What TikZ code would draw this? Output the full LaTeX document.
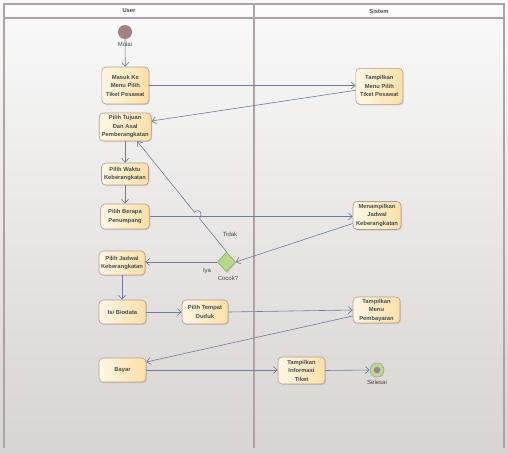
\documentclass[tikz,border=0pt]{standalone}
\usepackage{fontspec}
\setmainfont{Liberation Sans}
\usetikzlibrary{arrows.meta,shapes.geometric,shadows}
\definecolor{bgtop}{HTML}{FAFAFA}
\definecolor{bgbot}{HTML}{D7D4D1}
\definecolor{framec}{HTML}{B0A2A2}
\definecolor{boxl}{HTML}{FFF7E4}
\definecolor{boxr}{HTML}{FCDFA8}
\definecolor{boxb}{HTML}{B89A90}
\definecolor{linec}{HTML}{6E7B9C}
\definecolor{txtc}{HTML}{4A4A4A}
\definecolor{startc}{HTML}{A08282}
\definecolor{decf}{HTML}{B6D78C}
\definecolor{decb}{HTML}{8FA870}
\definecolor{endf}{HTML}{B8DA92}
\definecolor{endr}{HTML}{A0A0A0}
\tikzset{
  act/.style={rectangle, rounded corners=4pt, draw=boxb, line width=0.6pt,
    left color=boxl, right color=boxr, align=center, inner sep=0pt,
    font=\fontsize{5.8}{8.5}\selectfont\bfseries, text=txtc,
    drop shadow={opacity=0.25, shadow xshift=1pt, shadow yshift=-1pt}},
  flow/.style={draw=linec, line width=0.6pt, -{Straight Barb[length=4pt,width=7pt]}},
  lbl/.style={font=\fontsize{6}{7}\selectfont, text=txtc, inner sep=0pt},
  hdr/.style={font=\fontsize{5.8}{7}\selectfont\bfseries, text=txtc, inner sep=0pt},
  framel/.style={draw=framec, line width=1.2pt}
}
\begin{document}
\begin{tikzpicture}[x=1pt,y=-1pt]
\useasboundingbox (0,0) rectangle (508,453);
\shade[top color=bgtop,bottom color=bgbot] (0,0) rectangle (508,453);
\fill[white!98!gray] (4,4) rectangle (504,18);
\draw[framel] (4,448) -- (4,4) -- (504,4) -- (504,448);
\draw[framel] (4,18) -- (504,18);
\draw[framel] (254,4) -- (254,448);
\node[hdr] (huser) at (129,11) {User};
\node[hdr] (hsis) at (379,11) {Sistem};

% start
\node[circle, fill=startc, minimum size=14pt, inner sep=0pt] (start) at (125,32) {};

% actions
\node[act, minimum width=47pt, minimum height=37pt] (masuk) at (125.3,85.5) {Masuk Ke\\Menu Pilih\\Tiket Pesawat};
\node[act, minimum width=47pt, minimum height=36pt] (tmptp) at (379.3,86.3) {Tampilkan\\Menu Pilih\\Tiket Pesawat};
\node[act, minimum width=52pt, minimum height=28pt] (tujuan) at (125.2,127) {Pilih Tujuan\\Dan Asal\\Pemberangkatan};
\node[act, minimum width=47pt, minimum height=22pt] (waktu) at (125,174) {Pilih Waktu\\Keberangkatan};
\node[act, minimum width=48.5pt, minimum height=25pt] (berapa) at (125,216.5) {Pilih Berapa\\Penumpang};
\node[act, minimum width=48pt, minimum height=28pt] (menampil) at (377,215.5) {Menampilkan\\Jadwal\\Keberangkatan};
\node[diamond, draw=decb, fill=decf, line width=0.6pt, minimum width=18pt, minimum height=20pt, inner sep=0pt,
  drop shadow={opacity=0.25, shadow xshift=1pt, shadow yshift=-1pt}] (dec) at (226.5,262) {};
\node[act, minimum width=46pt, minimum height=24pt] (jadwal) at (122,263) {Pilih Jadwal\\Keberangkatan};
\node[act, minimum width=47pt, minimum height=24pt] (bio) at (122.5,312) {Isi Biodata};
\node[act, minimum width=46pt, minimum height=24pt] (duduk) at (205,312) {Pilih Tempat\\Duduk};
\node[act, minimum width=47pt, minimum height=26pt] (tmp) at (376.5,310) {Tampilkan\\Menu\\Pembayaran};
\node[act, minimum width=47pt, minimum height=24pt] (bayar) at (122.5,370) {Bayar};
\node[act, minimum width=47pt, minimum height=27pt] (info) at (301.5,370.5) {Tampilkan\\Informasi\\Tiket};

% end
\node[circle, draw=endr, line width=0.6pt, fill=endf, minimum size=14pt, inner sep=0pt] (fin) at (377,370) {};
\node[circle, fill=startc, minimum size=6.5pt, inner sep=0pt] (findot) at (fin.center) {};

% connectors
\draw[flow] (start.south) -- (masuk.north);
\draw[flow] (masuk.east) -- (masuk.east -| tmptp.west);
\draw[flow] ([yshift=-4pt]tmptp.west) -- ([yshift=6pt]tujuan.east);
\draw[flow] (tujuan.south) -- (tujuan.south |- waktu.north);
\draw[flow] (waktu.south) -- (waktu.south |- berapa.north);
\draw[flow] (berapa.east) -- (berapa.east -| menampil.west);
\draw[flow] ([yshift=-8pt]menampil.west) -- (dec.east);
\draw[flow] (dec.west) -- (dec.west -| jadwal.east);
\coordinate (h1) at (199.6,218.6);
\coordinate (h2) at (194.6,212.4);
\draw[flow] (dec.north) -- (h1) .. controls (203.5,213.5) and (199,207.5) .. (h2) -- ([xshift=12pt]tujuan.south);
\draw[flow] (jadwal.south) -- (jadwal.south |- bio.north);
\draw[flow] (bio.east) -- (duduk.west);
\draw[flow] (duduk.east) -- (tmp.west);
\draw[flow] ([yshift=-6pt]tmp.west) -- ([yshift=8pt]bayar.east);
\draw[flow] (bayar.east) -- (bayar.east -| info.west);
\draw[flow] (info.east) -- (fin.west);

% labels
\node[lbl] (lmulai) at (125,44) {Mulai};
\node[lbl] (ltidak) at (230,234) {Tidak};
\node[lbl] (liya) at (207,271) {Iya};
\node[lbl] (lcocok) at (228,278) {Cocok?};
\node[lbl] (lsel) at (377,382) {Selesai};
\end{tikzpicture}
\end{document}
